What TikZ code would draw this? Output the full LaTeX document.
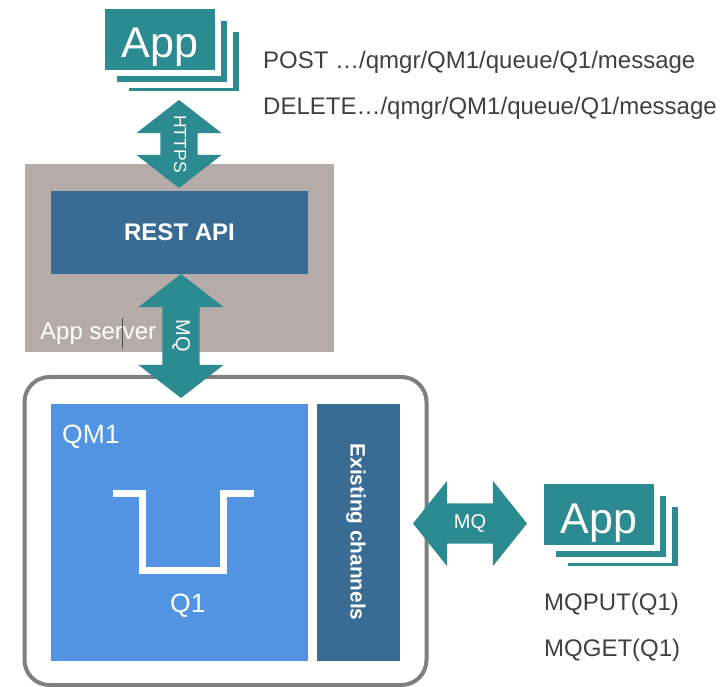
\documentclass[tikz,border=0pt]{standalone}
\usepackage{fontspec}
\setmainfont{Liberation Sans}
\usetikzlibrary{shapes.arrows}
\definecolor{appteal}{HTML}{2C8B91}
\definecolor{restblue}{HTML}{386C94}
\definecolor{qmblue}{HTML}{5294E2}
\definecolor{servergray}{HTML}{B5ABA9}
\definecolor{boxgray}{HTML}{7F7F7F}
\definecolor{cmdtext}{HTML}{404040}
\tikzset{appstack/.pic={
  \fill[appteal] (24,23) rectangle (134,82);
  \fill[white] (-1,-1) rectangle (128,79);
  \fill[appteal] (12,12) rectangle (122,73);
  \fill[white] (-1,-1) rectangle (116,67);
  \node[fill=appteal,minimum width=110pt,minimum height=61pt,inner sep=0pt,outer sep=0pt,
        text=white,text height=37pt,text depth=0pt,font=\fontsize{43}{43}\selectfont] (-front) at (55,30.5) {App};
}}

\begin{document}
\begin{tikzpicture}[x=1pt,y=-1pt]
  \tikzstyle{bar}=[inner sep=0pt,outer sep=0pt,anchor=north west,text=white]
  \tikzstyle{cmd}=[inner sep=0pt,anchor=base west,text=cmdtext,font=\fontsize{24}{24}\selectfont]
  \tikzstyle{whitetext}=[inner sep=0pt,anchor=base west,text=white,font=\fontsize{24}{24}\selectfont]
  \tikzstyle{link}=[shape=double arrow,fill=appteal,text=white,inner xsep=0pt,outer sep=0pt,
    minimum width=85pt,text height=10pt,text depth=0pt,font=\fontsize{20}{20}\selectfont]

  \useasboundingbox (0,0) rectangle (724,687);

  \node[bar,fill=servergray,minimum width=309pt,minimum height=188pt] (server) at (25,164) {};
  \node[bar,fill=restblue,minimum width=257pt,minimum height=83pt,font=\bfseries\fontsize{24}{24}\selectfont] (rest) at (51,191) {REST API};
  \node[whitetext] (serverlabel) at (40,340) {App server};
  \coordinate (cursortop) at (122,318);
  \coordinate (cursorbot) at (122,349);
  \draw[line width=1pt,black!70] (cursortop) -- (cursorbot);

  \node[bar,draw=boxgray,line width=4pt,fill=white,rounded corners=25pt,minimum width=402pt,minimum height=308pt] (box) at (24.5,377) {};
  \node[bar,fill=qmblue,minimum width=257pt,minimum height=257pt] (qm) at (51,404) {};
  \node[bar,fill=restblue,minimum width=83pt,minimum height=257pt] (channels) at (317,404) {};
  \node[text=white,font=\bfseries\fontsize{20.8}{20.8}\selectfont,rotate=-90] (channelslabel) at (356,532) {Existing channels};
  \node[whitetext,font=\fontsize{26.5}{26.5}\selectfont] (qmlabel) at (62,443) {QM1};
  \node[whitetext,font=\fontsize{26.5}{26.5}\selectfont] (qlabel) at (170,612) {Q1};

  \draw[white,line width=7pt] (113,493) -- (142.5,493) -- (142.5,570) -- (223,570) -- (223,493) -- (254,493);

  \pic (topapp) at (105,9) {appstack};
  \pic (sideapp) at (544,484) {appstack};

  \node[link,rotate=-90,minimum height=88pt,inner ysep=13.5pt,double arrow head extend=24pt,double arrow tip angle=104.3,font=\fontsize{17.5}{17.5}\selectfont] (https) at (179,144) {HTTPS};
  \node[link,rotate=-90,minimum height=124pt,inner ysep=13.5pt,double arrow head extend=24pt,double arrow tip angle=104.3] (mqserver) at (181,336) {MQ};
  \node[link,minimum height=114pt,inner ysep=15pt,double arrow head extend=22.5pt,double arrow tip angle=102.7] (mqside) at (470,523.5) {MQ};

  \node[cmd] (post) at (263,69) {POST …/qmgr/QM1/queue/Q1/message};
  \node[cmd] (delete) at (263,115) {DELETE…/qmgr/QM1/queue/Q1/message};
  \node[cmd] (mqput) at (544,610) {MQPUT(Q1)};
  \node[cmd] (mqget) at (544,656) {MQGET(Q1)};
\end{tikzpicture}
\end{document}
